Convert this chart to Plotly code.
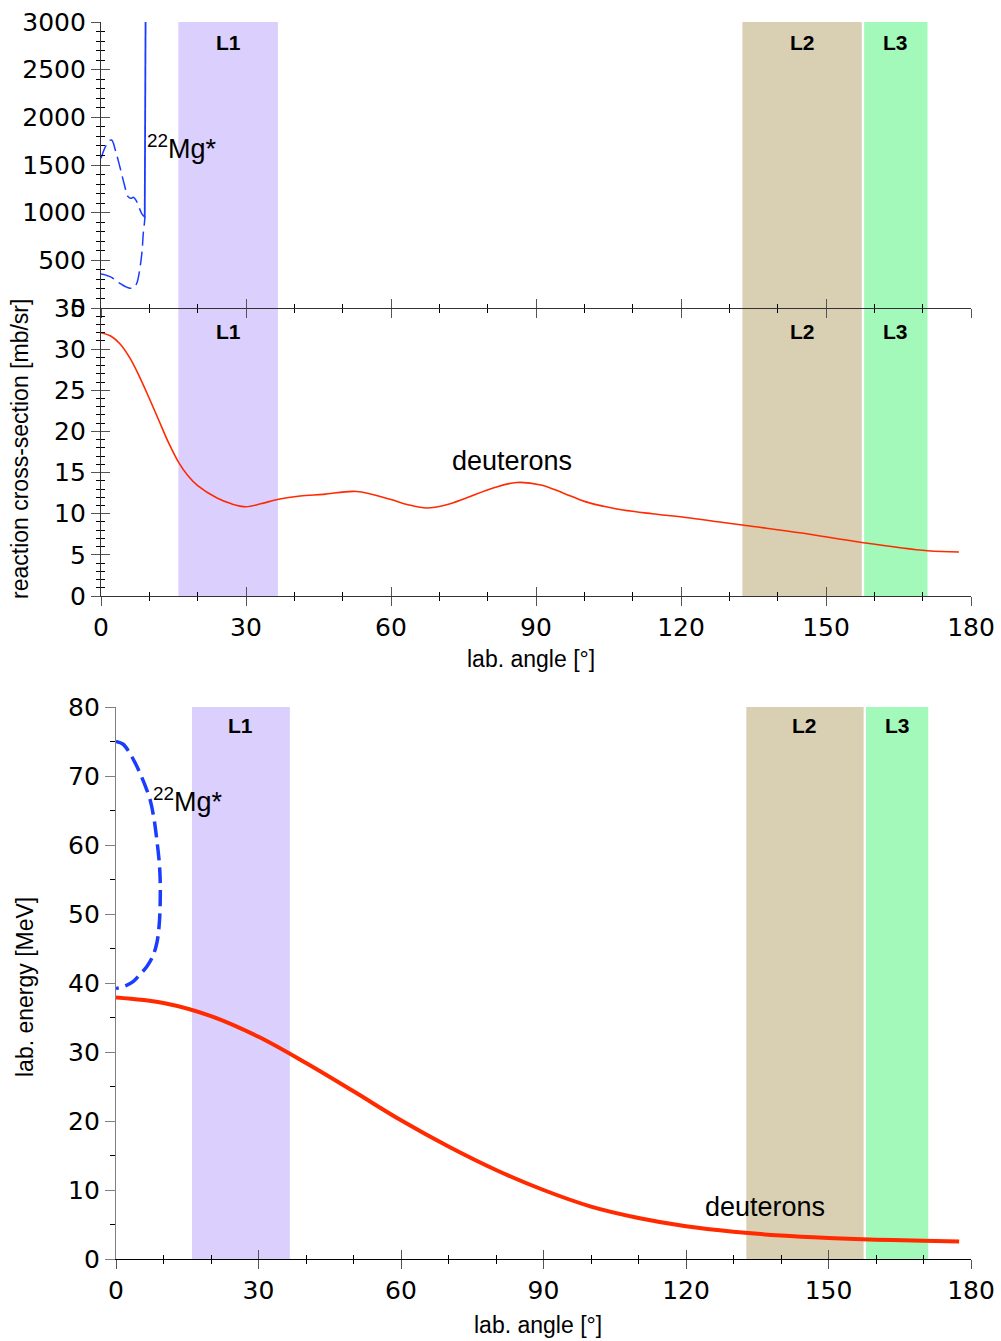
import plotly.graph_objects as go

# ---------------- data ----------------
# detector bands (lab angle, degrees)
band_names = ["L1", "L2", "L3"]
band_lo = [16.0, 132.7, 157.9]
band_hi = [36.6, 157.4, 171.0]
band_colors = ["#DACFFD", "#D9D0B4", "#A2F9B9"]

# top panel: 22Mg* cross-section (mb/sr)
mg_up_ang = [0, 0.8, 1.6, 2.2, 3.0, 3.9, 4.8, 5.6, 6.2, 6.7, 7.4, 8.0, 8.4, 8.9]
mg_up_xs = [1570, 1680, 1750, 1762, 1650, 1482, 1300, 1168, 1150, 1161, 1115, 1040, 993, 960]
mg_lo_ang = [0, 1.0, 2.2, 3.0, 3.9, 5.0, 6.0, 6.8, 7.4, 8.1, 8.5, 8.75, 9.0, 9.1]
mg_lo_xs = [357, 345, 322, 290, 259, 225, 207, 215, 259, 433, 600, 784, 900, 958]
mg_spike_ang = [9.05, 9.12, 9.18, 9.22]
mg_spike_xs = [950, 1500, 2300, 3000]

# middle panel: deuteron cross-section (mb/sr)
d_ang = [0, 2, 4, 6, 8, 10, 12, 14, 16, 18, 20, 24, 27, 30, 33, 36.7, 41.2, 46, 52.9,
         59.8, 63.5, 67.4, 71.5, 75.7, 81, 86, 91, 95.7, 100, 104, 108, 114, 121,
         128, 135, 145, 157.4, 171, 177.5]
d_xs = [32.0, 31.6, 30.6, 28.9, 26.6, 24.0, 21.3, 18.6, 16.3, 14.6, 13.4, 11.9, 11.2,
        10.85, 11.2, 11.75, 12.15, 12.35, 12.7, 11.75, 11.1, 10.7, 11.1, 11.95, 13.1,
        13.8, 13.5, 12.5, 11.5, 10.9, 10.45, 10.0, 9.55, 9.0, 8.45, 7.65, 6.5, 5.5, 5.35]

# bottom panel: lab energies (MeV)
mg_e_ang = [0, 1.5, 2.9, 4.1, 5.05, 6.2, 7.2, 8.0, 8.6, 9.1, 9.3, 9.3, 9.1, 8.6, 7.7,
            6.5, 5.0, 3.6, 2.0, 0]
mg_e = [75.0, 74.6, 73.3, 71.8, 70.4, 68.5, 66.5, 63.8, 60.7, 57.5, 54.9, 51.6, 48.5,
        45.8, 43.8, 42.4, 41.2, 40.2, 39.6, 39.2]
d_e_ang = [0, 10, 20, 30, 40, 50, 60, 70, 80, 90, 100, 110, 120, 130, 140, 150, 160,
           170, 177.5]
d_e = [37.9, 37.1, 35.2, 32.2, 28.4, 24.3, 20.1, 16.3, 12.9, 10.0, 7.6, 5.95, 4.75,
       3.95, 3.4, 3.05, 2.8, 2.65, 2.55]

# ---------------- layout helpers ----------------
W, H = 1001, 1341
def px_x(p):
    return p / W
def px_y(p):
    return 1 - p / H

BLUE = "#1A3CFF"
RED = "#FF2A00"
AX = "#333333"
TICKFONT = dict(family="DejaVu Sans", size=25, color="black")
TXTFONT = "Liberation Sans, Arial, sans-serif"

dom_x_top = [px_x(101), px_x(971)]
dom_x_bot = [px_x(116), px_x(971)]
dom_y_top = [px_y(308), px_y(22)]
dom_y_mid = [px_y(596), px_y(308)]
dom_y_bot = [px_y(1259), px_y(707)]

fig = go.Figure()

# top panel traces
fig.add_trace(go.Scatter(x=mg_up_ang, y=mg_up_xs, mode="lines", xaxis="x", yaxis="y",
                         line=dict(color=BLUE, width=1.5, dash="14px,6px", shape="spline")))
fig.add_trace(go.Scatter(x=mg_lo_ang, y=mg_lo_xs, mode="lines", xaxis="x", yaxis="y",
                         line=dict(color=BLUE, width=1.5, dash="14px,6px", shape="spline")))
fig.add_trace(go.Scatter(x=mg_spike_ang, y=mg_spike_xs, mode="lines", xaxis="x", yaxis="y",
                         line=dict(color=BLUE, width=1.8)))
# middle panel
fig.add_trace(go.Scatter(x=d_ang, y=d_xs, mode="lines", xaxis="x2", yaxis="y2",
                         line=dict(color=RED, width=1.6, shape="spline")))
# bottom panel
fig.add_trace(go.Scatter(x=mg_e_ang, y=mg_e, mode="lines", xaxis="x3", yaxis="y3",
                         line=dict(color=BLUE, width=3.5, dash="16px,7px", shape="spline")))
fig.add_trace(go.Scatter(x=d_e_ang, y=d_e, mode="lines", xaxis="x3", yaxis="y3",
                         line=dict(color=RED, width=4, shape="spline")))
# dummy traces for overlay axes (inside ticks -> crossing ticks)
for xa, ya in [("x4", "y"), ("x", "y4"), ("x5", "y2"), ("x2", "y5"), ("x6", "y3")]:
    fig.add_trace(go.Scatter(x=[None], y=[None], xaxis=xa, yaxis=ya, mode="lines",
                             hoverinfo="skip", showlegend=False))

def xaxis(domain, anchor, ticks, labels, overlay=None, linecolor=AX):
    d = dict(domain=domain, anchor=anchor, range=[0, 180], tickmode="linear", tick0=0,
             dtick=30, ticks=ticks, ticklen=9, tickwidth=1, tickcolor="#555",
             showline=overlay is None, linecolor=linecolor, linewidth=1.2,
             showgrid=False, zeroline=False, showticklabels=labels, tickfont=TICKFONT,
             ticklabelstandoff=0, automargin=False,
             minor=dict(tick0=0, dtick=10, ticks=ticks, ticklen=4, tickcolor="black",
                        tickwidth=1, showgrid=False))
    if overlay:
        d["overlaying"] = overlay
        d["matches"] = overlay
    return d

def yaxis(domain, anchor, rng, dtick, mdtick, ticks, labels, overlay=None,
          linecolor=AX, tickcolor="#555", ticklen=9, mticklen=4):
    d = dict(domain=domain, anchor=anchor, range=rng, tickmode="linear", tick0=0,
             dtick=dtick, ticks=ticks, ticklen=ticklen, tickwidth=1, tickcolor=tickcolor,
             showline=overlay is None, linecolor=linecolor, linewidth=1.2,
             showgrid=False, zeroline=False, showticklabels=labels, tickfont=TICKFONT,
             ticklabelstandoff=0, side="left", automargin=False,
             minor=dict(tick0=0, dtick=mdtick, ticks=ticks, ticklen=mticklen,
                        tickcolor="black", tickwidth=1, showgrid=False))
    if overlay:
        d["overlaying"] = overlay
    return d

layout = dict(
    template="none",
    width=W, height=H, autosize=False,
    margin=dict(l=0, r=0, t=0, b=0, pad=0, autoexpand=False),
    paper_bgcolor="white", plot_bgcolor="rgba(0,0,0,0)",
    showlegend=False,
    xaxis=xaxis(dom_x_top, "y", "outside", False),
    xaxis4=xaxis(dom_x_top, "y", "inside", False, overlay="x"),
    yaxis=yaxis(dom_y_top, "x", [0, 3000], 500, 100, "outside", True),
    yaxis4=yaxis(dom_y_top, "x", [0, 3000], 500, 100, "inside", False, overlay="y"),
    xaxis2=xaxis(dom_x_top, "y2", "outside", True),
    xaxis5=xaxis(dom_x_top, "y2", "inside", False, overlay="x2"),
    yaxis2=yaxis(dom_y_mid, "x2", [0, 35], 5, 1, "outside", True),
    yaxis5=yaxis(dom_y_mid, "x2", [0, 35], 5, 1, "inside", False, overlay="y2"),
    xaxis3=xaxis(dom_x_bot, "y3", "outside", True, linecolor="black"),
    xaxis6=xaxis(dom_x_bot, "y3", "inside", False, overlay="x3"),
    yaxis3=yaxis(dom_y_bot, "x3", [0, 80], 10, 5, "outside", True, linecolor="#808080",
                 tickcolor="#808080", ticklen=10, mticklen=5),
)
fig.update_layout(**layout)

# bands and labels
shapes = []
annotations = []
panels = [("x", "y", 0.927), ("x2", "y2", 0.92), ("x3", "y3", 0.967)]
for xr, yr, ylab in panels:
    for name, lo, hi, col in zip(band_names, band_lo, band_hi, band_colors):
        shapes.append(dict(type="rect", xref=xr, yref=yr + " domain", x0=lo, x1=hi,
                           y0=0, y1=1, fillcolor=col, line=dict(width=0), layer="below"))
        annotations.append(dict(xref=xr, yref=yr + " domain", x=(lo + hi) / 2, y=ylab,
                                text="<b>%s</b>" % name, showarrow=False,
                                font=dict(family=TXTFONT, size=21, color="black"),
                                xanchor="center", yanchor="middle"))

# curve labels
LABFONT = dict(family=TXTFONT, size=27, color="black")
annotations += [
    dict(xref="x", yref="y", x=9.1, y=1692, text="<sup>22</sup>Mg*", showarrow=False,
         xanchor="left", yanchor="middle", font=LABFONT),
    dict(xref="x2", yref="y2", x=85.1, y=16.4, text="deuterons", showarrow=False,
         xanchor="center", yanchor="middle", font=LABFONT),
    dict(xref="x3", yref="y3", x=7.3, y=66.5, text="<sup>22</sup>Mg*", showarrow=False,
         xanchor="left", yanchor="middle", font=LABFONT),
    dict(xref="x3", yref="y3", x=136.6, y=7.5, text="deuterons", showarrow=False,
         xanchor="center", yanchor="middle", font=LABFONT),
]

# axis titles
TITLEFONT = dict(family=TXTFONT, size=23, color="black")
annotations += [
    dict(xref="paper", yref="paper", x=px_x(531), y=px_y(659), text="lab. angle [°]",
         showarrow=False, xanchor="center", yanchor="middle", font=TITLEFONT),
    dict(xref="paper", yref="paper", x=px_x(20), y=px_y(449),
         text="reaction cross-section [mb/sr]", textangle=-90, showarrow=False,
         xanchor="center", yanchor="middle", font=TITLEFONT),
    dict(xref="paper", yref="paper", x=px_x(538), y=px_y(1325), text="lab. angle [°]",
         showarrow=False, xanchor="center", yanchor="middle", font=TITLEFONT),
    dict(xref="paper", yref="paper", x=px_x(25), y=px_y(987), text="lab. energy [MeV]",
         textangle=-90, showarrow=False, xanchor="center", yanchor="middle", font=TITLEFONT),
]

fig.update_layout(shapes=shapes, annotations=annotations)
fig.write_html("out.html")
